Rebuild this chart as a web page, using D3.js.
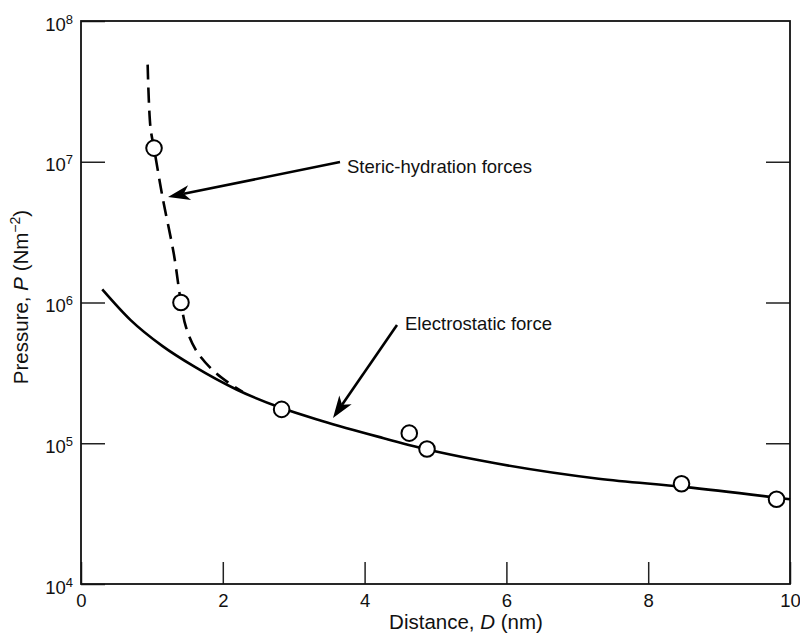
<!DOCTYPE html>
<html>
<head>
<meta charset="utf-8">
<script src="https://cdn.jsdelivr.net/npm/d3@7"></script>
<style>
  html, body { margin: 0; padding: 0; background: #fff; }
  svg { display: block; font-family: "Liberation Sans", Arial, sans-serif; }
</style>
</head>
<body>
<svg id="chart" width="800" height="640"></svg>
<script>
// Measured points (distance in nm, pressure in N/m^2)
const pointD = [1.03, 1.41, 2.83, 4.63, 4.88, 8.47, 9.81];
const pointP = [1.25e7, 1.0e6, 1.74e5, 1.18e5, 9.1e4, 5.15e4, 4.0e4];

// Electrostatic force curve
const elecD = [0.3, 0.7, 1.15, 1.6, 2.2, 2.8, 3.4, 4.2, 4.9, 5.6, 7.3, 8.5, 10];
const elecP = [1.24e6, 7.5e5, 4.9e5, 3.5e5, 2.4e5, 1.8e5, 1.44e5, 1.11e5, 9.0e4, 7.6e4, 5.6e4, 4.9e4, 4.0e4];

// Steric-hydration force curve
const sterD = [0.94, 0.98, 1.03, 1.15, 1.31, 1.41, 1.48, 1.62, 1.86, 2.09, 2.28];
const sterP = [4.9e7, 1.75e7, 1.25e7, 5.6e6, 2.2e6, 1.0e6, 6.7e5, 4.6e5, 3.3e5, 2.67e5, 2.32e5];

// Axis ticks
const xTicks = [0, 2, 4, 6, 8, 10];
const yExponents = [4, 5, 6, 7, 8];
const rightExponents = [5, 6, 7];

const svg = d3.select("#chart");
const plotLeft = 81, plotRight = 790, plotTop = 21, plotBottom = 584;

const x = d3.scaleLinear().domain([0, 10]).range([plotLeft, plotRight]);
const y = d3.scaleLog().domain([1e4, 1e8]).range([plotBottom, plotTop]);

// Bottom axis with inward ticks
const gx = svg.append("g")
  .attr("transform", `translate(0,${plotBottom})`)
  .call(d3.axisBottom(x).tickValues(xTicks).tickSizeInner(-22).tickSizeOuter(0).tickPadding(23).tickFormat(d3.format("d")));
gx.select(".domain").remove();
gx.selectAll(".tick line").attr("stroke", "#222").attr("stroke-width", 1.5);
gx.selectAll(".tick text").attr("font-size", 18.5).attr("fill", "#111").attr("dy", 0);

// Left axis with power-of-ten labels
const gy = svg.append("g")
  .attr("transform", `translate(${plotLeft},0)`)
  .call(d3.axisLeft(y).tickValues(yExponents.map(e => Math.pow(10, e))).tickSizeInner(-24).tickSizeOuter(0).tickFormat(""));
gy.select(".domain").remove();
gy.selectAll(".tick line").attr("stroke", "#222").attr("stroke-width", 1.5);
gy.selectAll(".tick").each(function(d) {
  const t = d3.select(this).append("text")
    .attr("x", -8).attr("y", 9)
    .attr("text-anchor", "end")
    .attr("font-size", 18.5).attr("fill", "#111");
  t.append("tspan").text("10");
  t.append("tspan").attr("font-size", 13).attr("dy", -7).text(Math.round(Math.log10(d)));
});

// Right axis ticks only
const gr = svg.append("g")
  .attr("transform", `translate(${plotRight},0)`)
  .call(d3.axisRight(y).tickValues(rightExponents.map(e => Math.pow(10, e))).tickSizeInner(-24).tickSizeOuter(0).tickFormat(""));
gr.select(".domain").remove();
gr.selectAll(".tick line").attr("stroke", "#222").attr("stroke-width", 1.5);

// Plot frame
svg.append("rect")
  .attr("x", plotLeft).attr("y", plotTop)
  .attr("width", plotRight - plotLeft).attr("height", plotBottom - plotTop)
  .attr("fill", "none").attr("stroke", "#111").attr("stroke-width", 1.8);

// Axis titles
svg.append("text")
  .attr("x", 466).attr("y", 629)
  .attr("text-anchor", "middle").attr("font-size", 20.5).attr("fill", "#111")
  .call(t => {
    t.append("tspan").text("Distance, ");
    t.append("tspan").attr("font-style", "italic").text("D");
    t.append("tspan").text(" (nm)");
  });

svg.append("text")
  .attr("transform", "translate(28,297) rotate(-90)")
  .attr("text-anchor", "middle").attr("font-size", 20.5).attr("fill", "#111")
  .call(t => {
    t.append("tspan").text("Pressure, ");
    t.append("tspan").attr("font-style", "italic").text("P");
    t.append("tspan").text(" (Nm");
    t.append("tspan").attr("font-size", 14).attr("dy", -8).text("\u22122");
    t.append("tspan").attr("dy", 8).text(")");
  });

// Curves
const line = d3.line().x(d => x(d[0])).y(d => y(d[1])).curve(d3.curveMonotoneX);

svg.append("path")
  .datum(elecD.map((d, i) => [d, elecP[i]]))
  .attr("d", line)
  .attr("fill", "none").attr("stroke", "#000").attr("stroke-width", 2.6);

const sterLine = d3.line().x(d => x(d[0])).y(d => y(d[1])).curve(d3.curveCatmullRom.alpha(0.5));
svg.append("path")
  .datum(sterD.map((d, i) => [d, sterP[i]]))
  .attr("d", sterLine)
  .attr("fill", "none").attr("stroke", "#000").attr("stroke-width", 2.6)
  .attr("stroke-dasharray", "15,8");

// Data points
svg.append("g").selectAll("circle")
  .data(pointD.map((d, i) => [d, pointP[i]]))
  .join("circle")
  .attr("cx", d => x(d[0])).attr("cy", d => y(d[1]))
  .attr("r", 7.8)
  .attr("fill", "#fff").attr("stroke", "#000").attr("stroke-width", 2);

// Annotation arrows
function arrow(x1, y1, x2, y2) {
  const ang = Math.atan2(y2 - y1, x2 - x1);
  const len = 22, half = 7.5, notch = 16;
  const bx = x2 - len * Math.cos(ang), by = y2 - len * Math.sin(ang);
  const nx = x2 - notch * Math.cos(ang), ny = y2 - notch * Math.sin(ang);
  const px = -Math.sin(ang), py = Math.cos(ang);
  svg.append("line")
    .attr("x1", x1).attr("y1", y1).attr("x2", nx).attr("y2", ny)
    .attr("stroke", "#000").attr("stroke-width", 2.6);
  svg.append("path")
    .attr("d", `M${x2},${y2}L${bx + px * half},${by + py * half}L${nx},${ny}L${bx - px * half},${by - py * half}Z`)
    .attr("fill", "#000");
}
arrow(340, 162, 168, 197);
arrow(397, 325, 333, 418);

svg.append("text")
  .attr("x", 347).attr("y", 173)
  .attr("font-size", 18.5).attr("fill", "#111")
  .text("Steric-hydration forces");

svg.append("text")
  .attr("x", 405).attr("y", 330)
  .attr("font-size", 18.5).attr("fill", "#111")
  .text("Electrostatic force");
</script>
</body>
</html>
